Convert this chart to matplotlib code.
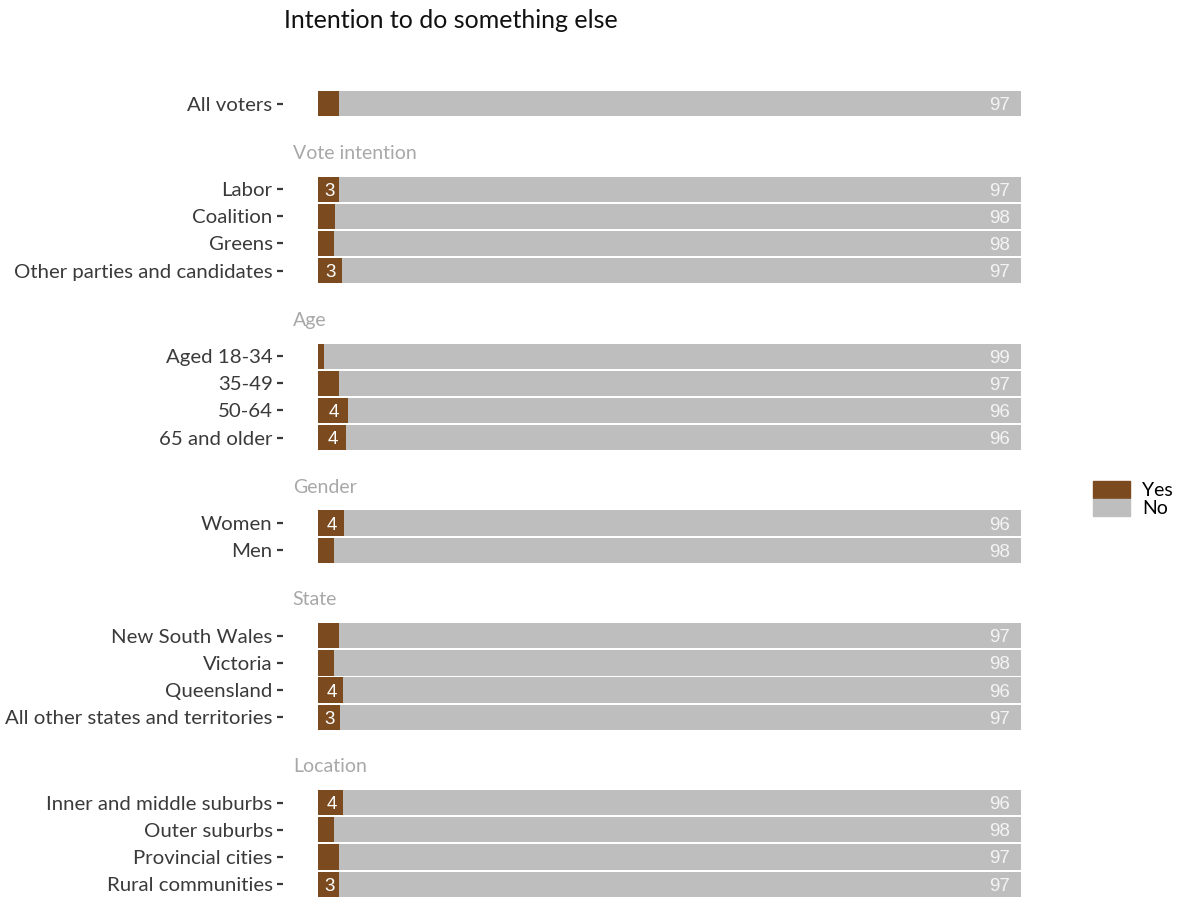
import numpy as np
import matplotlib.pyplot as plt
from matplotlib.patches import Patch

# Dados
grupos = ['', 'Vote intention', 'Age', 'Gender', 'State', 'Location']
categorias = [
    ['All voters'],
    ['Labor', 'Coalition', 'Greens', 'Other parties and candidates'],
    ['Aged 18-34', '35-49', '50-64', '65 and older'],
    ['Women', 'Men'],
    ['New South Wales', 'Victoria', 'Queensland', 'All other states and territories'],
    ['Inner and middle suburbs', 'Outer suburbs', 'Provincial cities', 'Rural communities'],
]
sim = [
    [2.9],
    [3.0, 2.4, 2.2, 3.4],
    [0.9, 2.9, 4.3, 3.9],
    [3.7, 2.2],
    [2.9, 2.3, 3.6, 3.1],
    [3.6, 2.3, 2.9, 3.0],
]
nao = [
    [97.1],
    [97.0, 97.6, 97.8, 96.6],
    [99.1, 97.1, 95.7, 96.1],
    [96.3, 97.8],
    [97.1, 97.7, 96.4, 96.9],
    [96.4, 97.7, 97.1, 97.0],
]

cor_sim = '#7B4A1E'
cor_nao = '#BEBEBE'
gap = 3.15

# posições das linhas
posicoes = []
pos_titulos = []
y = 0.0
for g, cats in enumerate(categorias):
    if g > 0:
        y += gap
        pos_titulos.append(y - 1.32)
    linha = []
    for i, c in enumerate(cats):
        if i > 0:
            y += 1
        linha.append(y)
    posicoes.append(linha)

fig = plt.figure(figsize=(11.78, 8.98), dpi=100)
fonte = 'Lato'
ax = fig.add_axes([283 / 1178, 0.0, (1056 - 283) / 1178, (898 - 70) / 898])

rotulos = []
ys = []
for g in range(len(categorias)):
    for c, p, s, n in zip(categorias[g], posicoes[g], sim[g], nao[g]):
        ax.barh(p, s, height=0.93, color=cor_sim, left=0)
        ax.barh(p, n, height=0.93, color=cor_nao, left=s)
        if s >= 3.0:
            ax.text(s / 2 + 0.1, p, f'{round(s)}', ha='center', va='center_baseline',
                    color='white', fontsize=13.5, family='Liberation Sans')
        ax.text(98.4, p, f'{round(n)}', ha='right', va='center_baseline',
                color='#F4F4F4', fontsize=13.5, family='Liberation Sans')
        rotulos.append(c)
        ys.append(p)

for titulo, p in zip(grupos[1:], pos_titulos):
    ax.text(-3.6, p, titulo, ha='left', va='center', color='#A8A8A8',
            fontsize=14, family=fonte)

ax.set_yticks(ys)
ax.set_yticklabels(rotulos, family=fonte, fontsize=14.7, color='#3A3A3A')
ax.tick_params(axis='y', direction='out', length=4.5, width=1.6,
               color='#3A3A3A', pad=3)
ax.set_xticks([])
ax.set_xlim(-5, 105)
ax.set_ylim(ys[-1] + 14 / 27.4, -34 / 27.4)
for s in ax.spines.values():
    s.set_visible(False)

fig.text(284 / 1178, 1 - 20 / 898, 'Intention to do something else',
         ha='left', va='center', fontsize=18, family=fonte, color='#111111')

handles = [Patch(color=cor_sim, label='Yes'), Patch(color=cor_nao, label='No')]
fig.legend(handles=handles, loc='center left', bbox_to_anchor=(1083 / 1178, 1 - 499 / 898),
           frameon=False, prop={'family': fonte, 'size': 14}, handlelength=1.9,
           handleheight=1.0, labelspacing=0.0, handletextpad=0.65, borderpad=0)

fig.savefig('out.png', dpi=100)
